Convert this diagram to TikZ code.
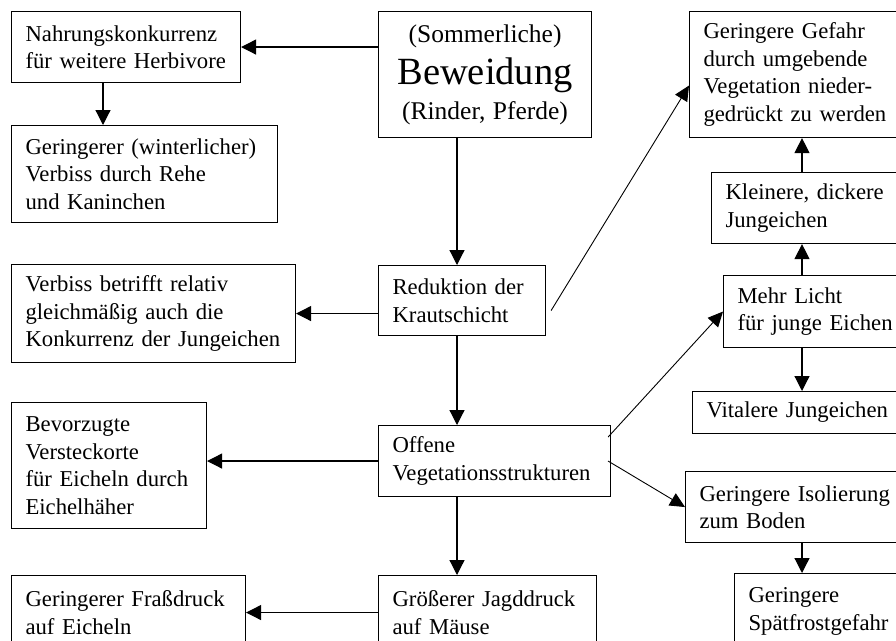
\documentclass[tikz,border=0pt]{standalone}
\usepackage{fontspec}
\setmainfont{Liberation Serif}
\usetikzlibrary{arrows.meta}

\begin{document}
\begin{tikzpicture}[x=1pt, y=-1pt,
      font=\fontsize{22.7}{27.5}\selectfont,
      box/.style={draw, line width=1.1pt, align=left, anchor=north west,
                  inner xsep=14pt, inner ysep=0pt},
      arr/.style={-{Triangle[length=15pt, width=15pt]}, line width=1.2pt},
      thinarr/.style={-{Triangle[length=15pt, width=14pt]}, line width=0.9pt}]
    \path[use as bounding box, fill=white] (0,0) rectangle (896,640);
    \coordinate (lcol) at (103,0);
    \coordinate (mcol) at (457,0);
    \coordinate (rcol) at (802,0);
    \node[box, text width=185pt, minimum height=126pt, align=center] (bew) at (378,11)
      {\fontsize{25.5}{35}\selectfont (Sommerliche)\\[7pt]
       \fontsize{38.5}{35}\selectfont Beweidung\\
       \fontsize{25.5}{35}\selectfont (Rinder, Pferde)\par};
    \node[box, text width=201pt, minimum height=71pt] (nahr) at (11,11)
      {Nahrungskonkurrenz\\für weitere Herbivore};
    \node[box, text width=238pt, minimum height=97pt] (winter) at (11,125)
      {Geringerer (winterlicher)\\Verbiss durch Rehe\\und Kaninchen};
    \node[box, text width=256pt, minimum height=98pt] (verb) at (11,264)
      {Verbiss betrifft relativ\\gleichmäßig auch die\\Konkurrenz der Jungeichen};
    \node[box, text width=167pt, minimum height=126pt] (bev) at (11,402)
      {Bevorzugte\\Versteckorte\\für Eicheln durch\\Eichelhäher};
    \node[box, text width=206pt, minimum height=74pt] (frass) at (11,575)
      {Geringerer Fraßdruck\\auf Eicheln};
    \node[box, text width=139pt, minimum height=70pt] (red) at (378,265)
      {Reduktion der\\Krautschicht};
    \node[box, text width=204pt, minimum height=71pt] (off) at (378,425)
      {Offene\\Vegetationsstrukturen};
    \node[box, text width=190pt, minimum height=74pt] (jagd) at (378,575)
      {Größerer Jagddruck\\auf Mäuse};
    \node[box, text width=210pt, minimum height=126pt] (gef) at (689,11)
      {Geringere Gefahr\\durch umgebende\\Vegetation nieder-\\gedrückt zu werden};
    \node[box, text width=200pt, minimum height=71pt] (klein) at (711,172)
      {Kleinere, dickere\\Jungeichen};
    \node[box, text width=190pt, minimum height=72pt] (licht) at (723,275)
      {Mehr Licht\\für junge Eichen};
    \node[box, text width=200pt, minimum height=42pt] (vital) at (692,391)
      {Vitalere Jungeichen};
    \node[box, text width=210pt, minimum height=71pt] (iso) at (685,471)
      {Geringere Isolierung\\zum Boden};
    \node[box, text width=160pt, minimum height=76pt] (frost) at (734,573)
      {Geringere\\Spätfrostgefahr};
    \draw[arr] (bew.west |- nahr.east) -- (nahr.east);
    \draw[arr] (nahr.south -| lcol) -- (winter.north -| lcol);
    \draw[arr] (bew.south -| mcol) -- (red.north -| mcol);
    \draw[arr] (red.west |- verb.east) -- (verb.east);
    \draw[arr] (red.south -| mcol) -- (off.north -| mcol);
    \draw[arr] (off.west) -- (off.west -| bev.east);
    \draw[arr] (off.south -| mcol) -- (jagd.north -| mcol);
    \draw[arr] (jagd.west) -- (jagd.west -| frass.east);
    \draw[thinarr] ([xshift=5pt, yshift=-10pt]red.east) -- ([yshift=-11pt]gef.west);
    \draw[thinarr] ([xshift=-3pt, yshift=24pt]off.east) -- (licht.west);
    \draw[thinarr] ([xshift=-3pt]off.east) -- (iso.west);
    \draw[arr] (licht.north -| rcol) -- (klein.south -| rcol);
    \draw[arr] (klein.north -| rcol) -- (gef.south -| rcol);
    \draw[arr] (licht.south -| rcol) -- (vital.north -| rcol);
    \draw[arr] (iso.south -| rcol) -- (frost.north -| rcol);
  \end{tikzpicture}
\end{document}
